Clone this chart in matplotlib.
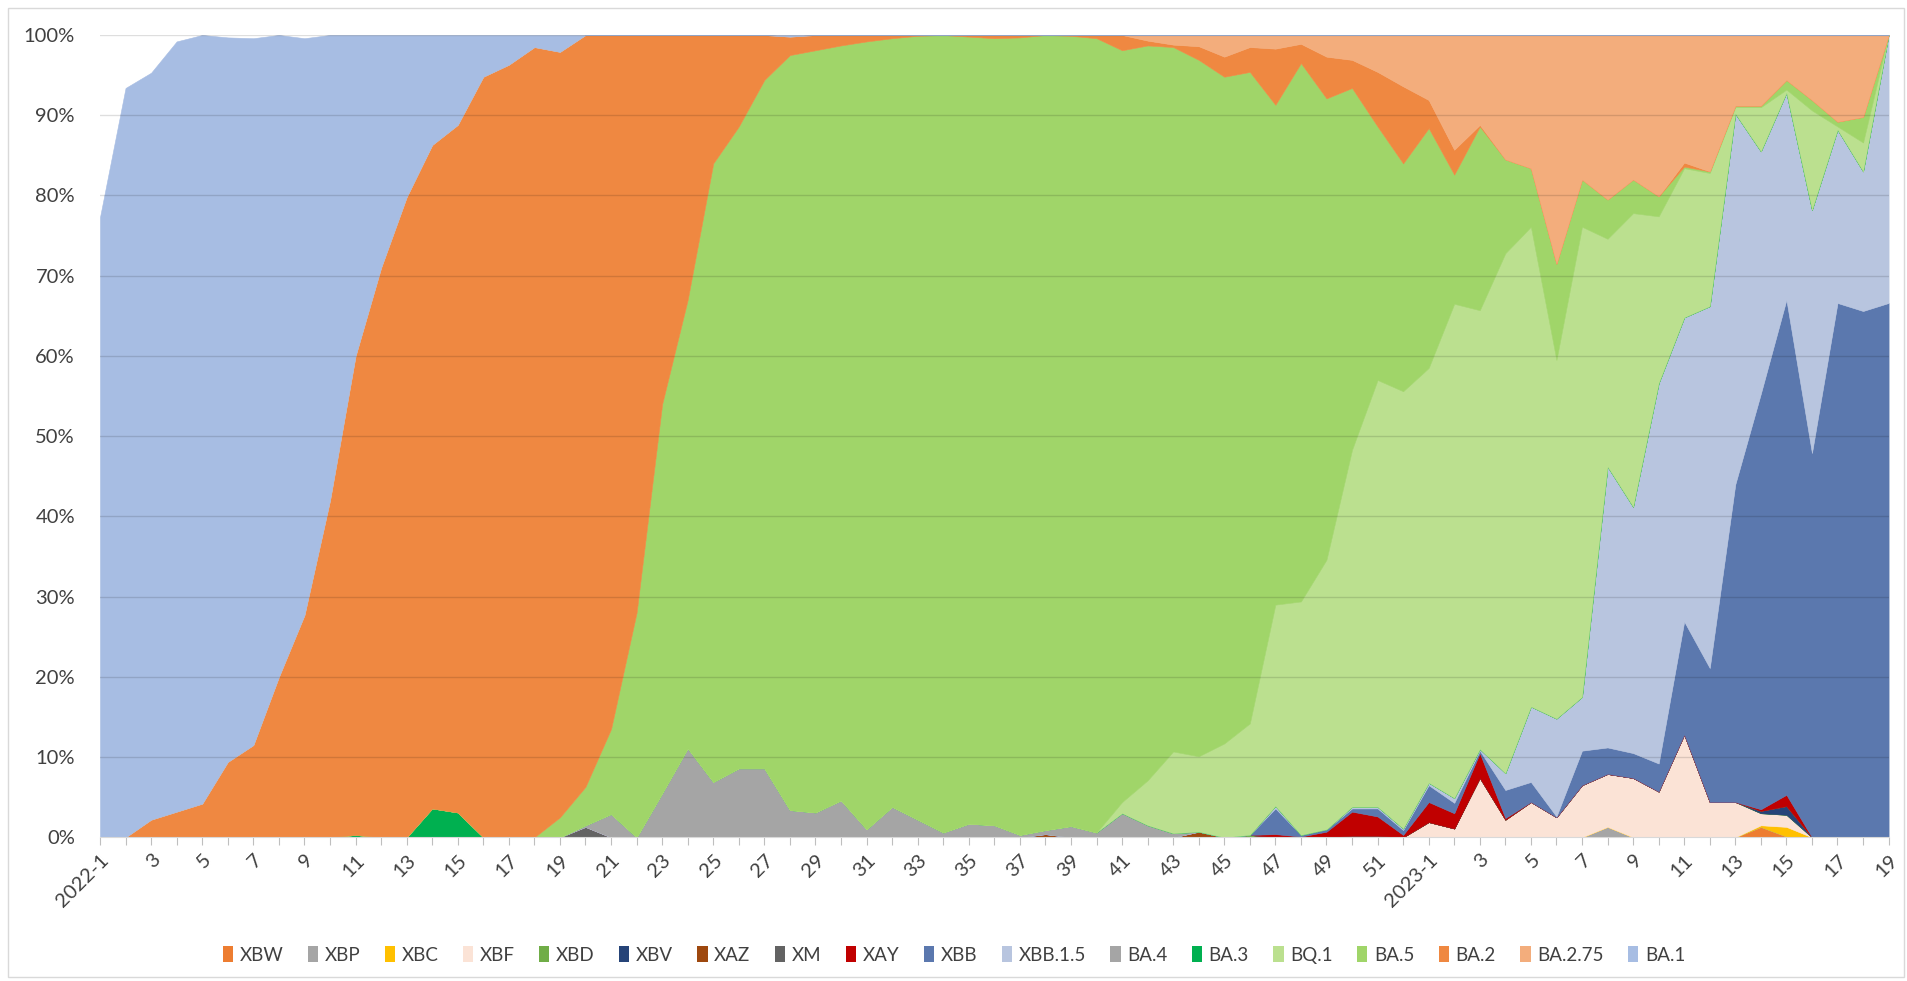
# weekly variant shares 2022-1 .. 2023-19, stacked area like the excel original
import numpy as np
import matplotlib
matplotlib.use('Agg')
import matplotlib.pyplot as plt
from matplotlib.patches import Patch, Rectangle

plt.rcParams['font.family'] = ['Lato', 'DejaVu Sans']

weeks_2022 = list(range(1, 53))
weeks_2023 = list(range(1, 20))

# series in stacking order (bottom first), values in percent
variants = ['XBW', 'XBP', 'XBC', 'XBF', 'XBD', 'XBV', 'XAZ', 'XM', 'XAY', 'XBB',
            'XBB.1.5', 'BA.4', 'BA.3', 'BQ.1', 'BA.5', 'BA.2', 'BA.2.75', 'BA.1']

xbw = [0, 0, 0, 0, 0, 0, 0, 0, 0, 0, 0, 0, 0, 0, 0, 0, 0, 0, 0, 0, 0, 0, 0, 0, 0, 0,
       0, 0, 0, 0, 0, 0, 0, 0, 0, 0, 0, 0, 0, 0, 0, 0, 0, 0, 0, 0, 0, 0, 0, 0, 0, 0,
       0, 0, 0, 0, 0, 0, 0, 0, 0, 0, 0, 0, 0, 1.3, 0.1, 0, 0, 0, 0]
xbp = [0, 0, 0, 0, 0, 0, 0, 0, 0, 0, 0, 0, 0, 0, 0, 0, 0, 0, 0, 0, 0, 0, 0, 0, 0, 0,
       0, 0, 0, 0, 0, 0, 0, 0, 0, 0, 0, 0, 0, 0, 0, 0, 0, 0, 0, 0, 0, 0, 0, 0, 0, 0,
       0, 0, 0, 0, 0, 0, 0, 1.3, 0, 0, 0, 0, 0, 0, 0, 0, 0, 0, 0]
xbc = [0, 0, 0, 0, 0, 0, 0, 0, 0, 0, 0, 0, 0, 0, 0, 0, 0, 0, 0, 0, 0, 0, 0, 0, 0, 0,
       0, 0, 0, 0, 0, 0, 0, 0, 0, 0, 0, 0, 0, 0, 0, 0, 0, 0, 0, 0, 0, 0, 0, 0, 0, 0,
       0, 0, 0, 0, 0, 0, 0, 0, 0, 0, 0, 0, 0, 0.2, 1.2, 0, 0, 0, 0]
xbf = [0, 0, 0, 0, 0, 0, 0, 0, 0, 0, 0, 0, 0, 0, 0, 0, 0, 0, 0, 0, 0, 0, 0, 0, 0, 0,
       0, 0, 0, 0, 0, 0, 0, 0, 0, 0, 0, 0, 0, 0, 0, 0, 0, 0, 0, 0, 0, 0, 0, 0.2, 0.2, 0,
       1.9, 1.1, 7.4, 2.2, 4.4, 2.5, 6.5, 6.6, 7.4, 5.7, 12.8, 4.4, 4.4, 1.5, 1.5, 0, 0, 0, 0]
xbd = [0, 0, 0, 0, 0, 0, 0, 0, 0, 0, 0, 0, 0, 0, 0, 0, 0, 0, 0, 0, 0, 0, 0, 0, 0, 0,
       0, 0, 0, 0, 0, 0, 0, 0, 0, 0, 0, 0, 0, 0, 0, 0, 0, 0, 0, 0.3, 0, 0, 0, 0, 0, 0,
       0, 0, 0, 0, 0, 0, 0, 0, 0, 0, 0, 0, 0, 0, 0, 0, 0, 0, 0]
xbv = [0, 0, 0, 0, 0, 0, 0, 0, 0, 0, 0, 0, 0, 0, 0, 0, 0, 0, 0, 0, 0, 0, 0, 0, 0, 0,
       0, 0, 0, 0, 0, 0, 0, 0, 0, 0, 0, 0, 0, 0, 0, 0, 0, 0, 0, 0, 0, 0, 0, 0, 0, 0,
       0, 0, 0, 0, 0, 0, 0, 0, 0, 0, 0, 0, 0, 0.3, 1.1, 0, 0, 0, 0]
xaz = [0, 0, 0, 0, 0, 0, 0, 0, 0, 0, 0, 0, 0, 0, 0, 0, 0, 0, 0, 0, 0, 0, 0, 0, 0, 0,
       0, 0, 0, 0, 0, 0, 0, 0, 0, 0, 0, 0.4, 0, 0, 0, 0, 0, 0.7, 0, 0, 0, 0, 0, 0, 0, 0,
       0, 0, 0, 0, 0, 0, 0, 0, 0, 0, 0, 0, 0, 0, 0, 0, 0, 0, 0]
xm = [0, 0, 0, 0, 0, 0, 0, 0, 0, 0, 0, 0, 0, 0, 0, 0, 0, 0, 0, 1.3, 0, 0, 0, 0, 0, 0,
      0, 0, 0, 0, 0, 0, 0, 0, 0, 0, 0, 0, 0, 0, 0, 0, 0, 0, 0, 0, 0, 0, 0, 0, 0, 0,
      0, 0, 0, 0, 0, 0, 0, 0, 0, 0, 0, 0, 0, 0, 0, 0, 0, 0, 0]
xay = [0, 0, 0, 0, 0, 0, 0, 0, 0, 0, 0, 0, 0, 0, 0, 0, 0, 0, 0, 0, 0, 0, 0, 0, 0, 0,
       0, 0, 0, 0, 0, 0, 0, 0, 0, 0, 0, 0, 0, 0, 0, 0, 0, 0, 0, 0, 0.4, 0.1, 0.7, 3.0, 2.4, 0.3,
       2.5, 1.9, 3.1, 0.2, 0, 0, 0, 0, 0, 0, 0, 0, 0, 0.2, 1.4, 0, 0, 0, 0]
xbb = [0, 0, 0, 0, 0, 0, 0, 0, 0, 0, 0, 0, 0, 0, 0, 0, 0, 0, 0, 0, 0, 0, 0, 0, 0, 0,
       0, 0, 0, 0, 0, 0, 0, 0, 0, 0, 0, 0, 0, 0, 0, 0, 0, 0, 0, 0, 3.2, 0.2, 0.3, 0.4, 1.0, 0.6,
       2.1, 1.3, 0.3, 3.5, 2.5, 0.1, 4.3, 3.3, 3.1, 3.5, 14.1, 16.7, 39.6, 51.8, 61.7, 47.9,
       66.6, 65.6, 66.6]
xbb15 = [0, 0, 0, 0, 0, 0, 0, 0, 0, 0, 0, 0, 0, 0, 0, 0, 0, 0, 0, 0, 0, 0, 0, 0, 0, 0,
         0, 0, 0, 0, 0, 0, 0, 0, 0, 0, 0, 0, 0, 0, 0, 0, 0, 0, 0, 0, 0.3, 0, 0, 0.2, 0.2, 0.2,
         0.3, 0.6, 0.2, 2.1, 9.4, 12.2, 6.7, 35.0, 30.7, 47.4, 37.9, 45.1, 46.2, 30.2, 25.8,
         30.3, 21.6, 17.4, 33.4]
ba4 = [0, 0, 0, 0, 0, 0, 0, 0, 0, 0, 0, 0, 0, 0, 0, 0, 0, 0, 0, 0.2, 2.9, 0, 5.5, 11.1, 6.9, 8.6,
       8.6, 3.4, 3.1, 4.6, 1.0, 3.8, 2.2, 0.6, 1.7, 1.5, 0.3, 0.5, 1.4, 0.6, 3.0, 1.5, 0.5, 0, 0, 0,
       0, 0, 0, 0, 0, 0,
       0, 0, 0, 0, 0, 0, 0, 0, 0, 0, 0, 0, 0, 0, 0, 0, 0, 0, 0]
ba3 = [0, 0, 0, 0, 0, 0, 0, 0, 0, 0, 0.3, 0, 0, 3.6, 3.1, 0, 0, 0, 0, 0, 0, 0, 0, 0, 0, 0,
       0, 0, 0, 0, 0, 0, 0, 0, 0, 0, 0, 0, 0, 0, 0, 0, 0, 0, 0, 0, 0, 0, 0, 0, 0, 0,
       0, 0, 0, 0, 0, 0, 0, 0, 0, 0, 0, 0, 0, 0, 0, 0, 0, 0, 0]
bq1 = [0, 0, 0, 0, 0, 0, 0, 0, 0, 0, 0, 0, 0, 0, 0, 0, 0, 0, 0, 0, 0, 0, 0, 0, 0, 0,
       0, 0, 0, 0, 0, 0, 0, 0, 0, 0, 0, 0, 0, 0, 1.4, 5.6, 10.2, 9.4, 11.7, 13.9, 25.1, 29.1,
       33.6, 44.5, 53.2, 54.5,
       51.7, 61.6, 54.7, 64.8, 59.8, 44.7, 58.6, 28.4, 36.6, 20.8, 18.6, 16.6, 0.8, 5.5, 0.4,
       12.4, 0.4, 3.6, 0]
ba5 = [0, 0, 0, 0, 0, 0, 0, 0, 0, 0, 0, 0, 0, 0, 0, 0, 0, 0, 2.5, 4.8, 10.6, 28.0, 48.5, 55.9,
       77.1, 80.0, 85.8, 94.1, 95.0, 94.1, 98.2, 95.8, 97.7, 99.4, 98.1, 98.1, 99.4, 99.1, 98.5,
       99.0, 93.7, 91.6, 87.8, 86.8, 83.1, 81.2, 62.3, 67.1, 57.5, 45.1, 31.6, 28.4,
       29.9, 16.1, 22.9, 11.7, 7.3, 12.0, 5.9, 4.9, 4.2, 2.5, 0.2, 0.2, 0.2, 0.2, 1.2, 1.3, 0.6,
       3.2, 0]
ba2 = [0, 0, 2.2, 3.2, 4.2, 9.4, 11.5, 20.0, 27.7, 42.0, 59.7, 71.0, 79.8, 82.7, 85.7, 94.8,
       96.3, 98.5, 95.4, 93.7, 86.5, 72.0, 46.0, 33.0, 16.0, 11.4, 5.6, 2.3, 1.9, 1.3, 0.8, 0.4,
       0.1, 0, 0.2, 0.4, 0.3, 0, 0.1, 0.4, 1.9, 0.6, 0.3, 1.7, 2.5, 3.1, 7.0, 2.4, 5.2, 3.5, 6.8,
       9.6,
       3.5, 3.1, 0.2, 0, 0, 0, 0, 0, 0, 0, 0.5, 0, 0, 0, 0, 0, 0, 0, 0]
ba275 = [0, 0, 0, 0, 0, 0, 0, 0, 0, 0, 0, 0, 0, 0, 0, 0, 0, 0, 0, 0, 0, 0, 0, 0, 0, 0,
         0, 0, 0, 0, 0, 0, 0, 0, 0, 0, 0, 0, 0, 0, 0, 0.7, 1.2, 1.4, 2.7, 1.5, 1.7, 1.1, 2.7,
         3.1, 4.6, 6.4,
         8.1, 14.3, 11.2, 15.5, 16.6, 28.5, 18.0, 20.5, 18.0, 20.1, 15.9, 17.0, 8.8, 8.8, 5.6,
         8.1, 10.8, 10.2, 0]
ba1 = [77.3, 93.4, 93.1, 96.0, 95.8, 90.3, 88.1, 80.0, 71.9, 58.0, 40.0, 29.0, 20.2, 13.7,
       11.2, 5.2, 3.7, 1.5, 2.1, 0, 0, 0, 0, 0, 0, 0, 0, 0.2, 0, 0, 0, 0, 0, 0, 0, 0, 0, 0, 0,
       0, 0, 0, 0, 0, 0, 0, 0, 0, 0, 0, 0, 0,
       0, 0, 0, 0, 0, 0, 0, 0, 0, 0, 0, 0, 0, 0, 0, 0, 0, 0, 0]

colors = ['#ED7D31', '#A5A5A5', '#FFC000', '#FBE3D6', '#70AD47', '#264478', '#9E480E',
          '#636363', '#C00000', '#5B78AE', '#B8C5DF', '#A5A5A5', '#00B050', '#BBE08F',
          '#A0D569', '#EF8841', '#F3AD7C', '#A7BDE3']

series = [xbw, xbp, xbc, xbf, xbd, xbv, xaz, xm, xay, xbb,
          xbb15, ba4, ba3, bq1, ba5, ba2, ba275, ba1]

labels = []
for w in weeks_2022:
    labels.append('2022-1' if w == 1 else str(w))
for w in weeks_2023:
    labels.append('2023-1' if w == 1 else str(w))
x = np.arange(len(labels))

fig = plt.figure(figsize=(19.08, 9.81), dpi=100)
ax = fig.add_axes([100 / 1908, 143.7 / 981, 1788.6 / 1908, 802.3 / 981])

polys = ax.stackplot(x, *series, colors=colors, labels=variants, linewidth=0.4)
for p, c in zip(polys, colors):
    p.set_edgecolor(c)

ax.set_xlim(0, len(x) - 1)
ax.set_ylim(0, 100)

# excel gridlines show through the areas
for v in range(10, 101, 10):
    ax.axhline(v, color='black', alpha=0.13, linewidth=1, zorder=5)

for s in ['top', 'right', 'left']:
    ax.spines[s].set_visible(False)
ax.spines['bottom'].set_color('#D9D9D9')
ax.spines['bottom'].set_zorder(6)

ax.set_yticks(range(0, 101, 10))
ax.set_yticklabels([str(v) + '%' for v in range(0, 101, 10)])
ax.tick_params(axis='y', length=0, pad=18, labelsize=14.5, labelcolor='#404040')

ax.set_xticks(x)
ax.set_xticklabels([lab if i % 2 == 0 else '' for i, lab in enumerate(labels)],
                   rotation=45, ha='right', rotation_mode='anchor')
ax.tick_params(axis='x', length=6, color='#BFBFBF', pad=4, labelsize=14.5,
               labelcolor='#404040')

handles = [Patch(facecolor=c, edgecolor='none') for c in colors]
fig.legend(handles, variants, loc='center', bbox_to_anchor=(0.5, 26 / 981), ncol=len(variants),
           frameon=False, fontsize=13.5, handlelength=0.55, handleheight=0.9,
           handletextpad=0.35, columnspacing=1.3, labelcolor='#404040')

fig.patches.append(Rectangle((8 / 1908, 4 / 981), 1896 / 1908, 969 / 981,
                             transform=fig.transFigure, fill=False,
                             edgecolor='#D9D9D9', linewidth=1))

plt.savefig('out.png', dpi=100)
